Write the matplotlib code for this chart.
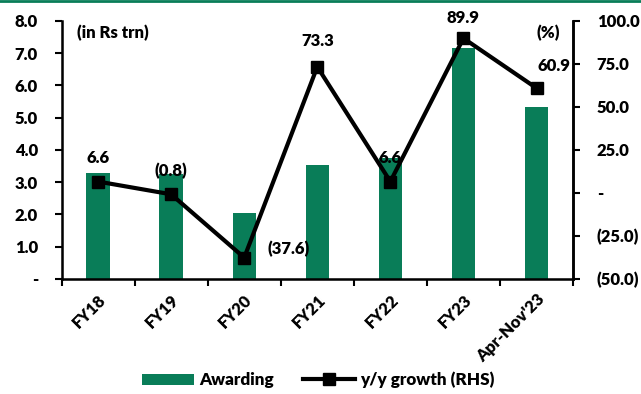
import numpy as np
import matplotlib
matplotlib.use('Agg')
import matplotlib.pyplot as plt
from matplotlib.ticker import FixedLocator

plt.rcParams['font.family'] = ['Lato', 'DejaVu Sans']
plt.rcParams['font.weight'] = 'heavy'

categories = ['FY18', 'FY19', 'FY20', 'FY21', 'FY22', 'FY23', "Apr-Nov'23"]
awarding = [3.27, 3.24, 2.03, 3.53, 3.75, 7.15, 5.33]
growth = [6.6, -0.8, -37.6, 73.3, 6.6, 89.9, 60.9]
growth_labels = ['6.6', '(0.8)', '(37.6)', '73.3', '6.6', '89.9', '60.9']

green = '#097d58'
fs = 12

fig = plt.figure(figsize=(6.41, 3.94), dpi=100)
ax1 = fig.add_axes([0.096, 0.292, 0.798, 0.655])
ax2 = ax1.twinx()

x = np.arange(len(categories))
ax1.bar(x, awarding, width=0.32, color=green, label='Awarding', zorder=1)
ax1.set_xlim(-0.5, len(categories) - 0.5)
ax1.set_ylim(0, 8)
ax1.set_yticks(np.arange(0, 9, 1.0))
ax1.set_yticklabels(['-'] + ['%.1f' % v for v in range(1, 9)])
ax1.set_xticks(x)
ax1.set_xticklabels(categories, rotation=45, ha='right', rotation_mode='anchor')
ax1.xaxis.set_minor_locator(FixedLocator(np.arange(-0.5, len(categories), 1)))
ax1.tick_params(axis='x', which='major', length=0, labelsize=fs, pad=9)
ax1.tick_params(axis='x', which='minor', length=5, width=1.5, direction='out')
ax1.tick_params(axis='y', length=5, width=1.5, labelsize=fs, pad=12)
ax1.spines['top'].set_visible(False)
for s in ['left', 'right', 'bottom']:
    ax1.spines[s].set_linewidth(1.8)

ax2.plot(x, growth, color='black', lw=3, marker='s', ms=9, label='y/y growth (RHS)', zorder=3)
ax2.set_ylim(-50, 100)
ax2.set_yticks(np.arange(-50, 101, 25))
ax2.set_yticklabels(['(50.0)', '(25.0)', '-', '25.0', '50.0', '75.0', '100.0'])
ax2.tick_params(axis='y', length=5, width=1.5, labelsize=fs, pad=12)
ax2.spines['top'].set_visible(False)
ax2.spines['right'].set_linewidth(1.8)

# label offsets in points: (dx, dy)
offsets = [(0, 11), (0, 11), (32, 6.5), (0, 13), (0, 11), (0, 9), (12.5, 10)]
for xi, yi, lab, (dx, dy) in zip(x, growth, growth_labels, offsets):
    ax2.annotate(lab, (xi, yi), xytext=(dx, dy), textcoords='offset points',
                 ha='center', va='center' if xi == 2 else 'bottom', fontsize=fs)

ax1.text(0.03, 0.985, '(in Rs trn)', transform=ax1.transAxes, fontsize=fs, va='top')
ax1.text(0.975, 0.985, '(%)', transform=ax1.transAxes, fontsize=fs, va='top', ha='right')

h1, l1 = ax1.get_legend_handles_labels()
h2, l2 = ax2.get_legend_handles_labels()
fig.legend(h1 + h2, l1 + l2, loc='lower center', bbox_to_anchor=(0.496, -0.025), ncol=2,
           frameon=False, fontsize=12.3, handlelength=3.05, handletextpad=0.29, columnspacing=1.7)

fig.add_artist(plt.Line2D([0, 1], [0.998, 0.998], color=green, lw=2, transform=fig.transFigure))

fig.savefig('out.png', dpi=100)
